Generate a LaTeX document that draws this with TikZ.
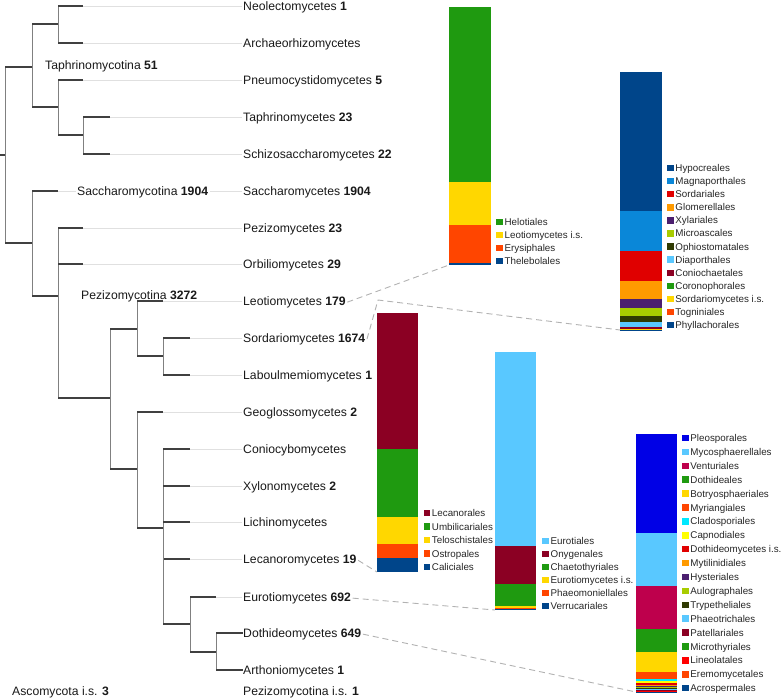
\documentclass[tikz,border=0pt]{standalone}
\usepackage{fontspec}
\setmainfont{Liberation Sans}
\usetikzlibrary{positioning}
\definecolor{cGreen}{HTML}{1F9A10}
\definecolor{cGold}{HTML}{FFD700}
\definecolor{cOrRed}{HTML}{FF4500}
\definecolor{cDkBlue}{HTML}{00458A}
\definecolor{cBlue}{HTML}{0A87D8}
\definecolor{cRed}{HTML}{E00000}
\definecolor{cOrange}{HTML}{FF9A00}
\definecolor{cPurple}{HTML}{4B1F6F}
\definecolor{cYlGrn}{HTML}{A8CC00}
\definecolor{cOlive}{HTML}{2F3A02}
\definecolor{cLtBlue}{HTML}{59C8FF}
\definecolor{cDkRed}{HTML}{8B0023}
\definecolor{cPleo}{HTML}{0000E6}
\definecolor{cCrimson}{HTML}{BE004C}
\definecolor{cCyan}{HTML}{00E8FF}
\definecolor{cYellow}{HTML}{FFFF00}
\definecolor{cBrRed}{HTML}{FF0000}
\begin{document}
\begin{tikzpicture}[x=1pt, y=-1pt,
  hbr/.style={draw=black!75, line width=1.5pt},
  vbr/.style={draw=black!50, line width=0.9pt},
  guide/.style={draw=black!12, line width=0.8pt},
  leaf/.style={anchor=base west, inner sep=1.5pt, text=black!90,
               font=\fontsize{12.2}{14}\selectfont},
  clade/.style={leaf},
  sw/.style={rectangle, inner sep=0pt, minimum size=6.5pt},
  lgd/.style={anchor=west, inner sep=0pt, text=black!85, text height=7.5pt,
              text depth=0.5pt, font=\fontsize{9.8}{11}\selectfont},
  link/.style={draw=black!30, line width=0.9pt, dash pattern=on 6pt off 4pt}
]
\useasboundingbox (0,0) rectangle (781,700);

% leaves
\foreach \n/\tx/\y/\txt in {
  neo/83/6/{Neolectomycetes \textbf{1}},
  arc/83/43/{Archaeorhizomycetes},
  pne/83/80/{Pneumocystidomycetes \textbf{5}},
  tph/110/117/{Taphrinomycetes \textbf{23}},
  sch/110/154/{Schizosaccharomycetes \textbf{22}},
  sac/58/191/{Saccharomycetes \textbf{1904}},
  pzm/83/228/{Pezizomycetes \textbf{23}},
  orb/83/264/{Orbiliomycetes \textbf{29}},
  leo/163/301/{Leotiomycetes \textbf{179}},
  sor/190/338/{Sordariomycetes \textbf{1674}},
  lab/190/375/{Laboulmemiomycetes \textbf{1}},
  geo/163/412/{Geoglossomycetes \textbf{2}},
  con/190/449/{Coniocybomycetes},
  xyl/190/486/{Xylonomycetes \textbf{2}},
  lic/190/522/{Lichinomycetes},
  lec/190/559/{Lecanoromycetes \textbf{19}},
  eur/216/597/{Eurotiomycetes \textbf{692}},
  dot/243/633/{Dothideomycetes \textbf{649}},
  art/243/670/{Arthoniomycetes \textbf{1}}}{
  \coordinate (t\n) at (\tx,\y);
  \node[leaf] (\n) at (241.5,\y+4.3) {\txt};
  \draw[guide] (t\n) -- (t\n -| \n.west);
}
\node[leaf]  (pis) at (241.5,695.3) {Pezizomycotina i.s. \textbf{1}};
\node[clade] (ais) at (10.5,695.3)  {Ascomycota i.s. \textbf{3}};

% inner nodes of the tree
\coordinate (stem) at (0,155);
\coordinate (root) at (5,155);
\coordinate (tap)  at (32,67);
\coordinate (ta1)  at (58,24);
\coordinate (ta2)  at (58,107);
\coordinate (ta3)  at (83,135);
\coordinate (sp)   at (32,243);
\coordinate (pez)  at (58,296);
\coordinate (pe1)  at (110,398);
\coordinate (pe2)  at (137,329);
\coordinate (pe3)  at (163,356);
\coordinate (pe4)  at (137,469);
\coordinate (pe5)  at (163,528);
\coordinate (pe6)  at (190,624);
\coordinate (pe7)  at (216,652);
\draw[hbr] (stem) -- (root);
\foreach \p/\q in {root/tap, root/sp, tap/ta1, tap/ta2, ta1/tneo, ta1/tarc,
    ta2/tpne, ta2/ta3, ta3/ttph, ta3/tsch, sp/tsac, sp/pez, pez/tpzm, pez/torb,
    pez/pe1, pe1/pe2, pe1/pe4, pe2/tleo, pe2/pe3, pe3/tsor, pe3/tlab,
    pe4/tgeo, pe4/pe5, pe5/tcon, pe5/txyl, pe5/tlic, pe5/tlec, pe5/pe6,
    pe6/teur, pe6/pe7, pe7/tdot, pe7/tart}{
  \draw[vbr] (\p) -- (\p |- \q);
  \draw[hbr] (\p |- \q) -- (\q);
}
\node[clade] (taphr) at (43.5,69.3) {Taphrinomycotina \textbf{51}};
\node[clade, fill=white] (sacch) at (75.5,195.3) {Saccharomycotina \textbf{1904}};
\node[clade] (peziz) at (79.5,299.5) {Pezizomycotina \textbf{3272}};

% Leotiomycetes bar
\foreach \col/\ya/\yb in {cGreen/7/182, cGold/182/225, cOrRed/225/263, cDkBlue/263/265}
  \fill[\col] (449,\ya) rectangle (491,\yb);
\foreach \col/\nm [count=\i] in {cGreen/Helotiales, cGold/Leotiomycetes i.s.,
    cOrRed/Erysiphales, cDkBlue/Thelebolales}{
  \node[sw, fill=\col] (leoS\i) at (499.5,{222+13*(\i-1)}) {};
  \node[lgd, right=1.5pt of leoS\i] (leoL\i) {\nm};
}

% Sordariomycetes bar
\foreach \col/\ya/\yb in {cDkBlue/72/211, cBlue/211/251, cRed/251/281,
    cOrange/281/299, cPurple/299/308, cYlGrn/308/316, cOlive/316/322,
    cLtBlue/322/327, cDkRed/327/328.8, cGreen/328.8/329.3, cGold/329.3/329.6,
    cOrRed/329.6/329.8, cDkBlue/329.8/330}
  \fill[\col] (620,\ya) rectangle (662,\yb);
\foreach \col/\nm [count=\i] in {cDkBlue/Hypocreales, cBlue/Magnaporthales,
    cRed/Sordariales, cOrange/Glomerellales, cPurple/Xylariales,
    cYlGrn/Microascales, cOlive/Ophiostomatales, cLtBlue/Diaporthales,
    cDkRed/Coniochaetales, cGreen/Coronophorales, cGold/Sordariomycetes i.s.,
    cOrRed/Togniniales, cDkBlue/Phyllachorales}{
  \node[sw, fill=\col] (sorS\i) at (670.3,{168+13.1*(\i-1)}) {};
  \node[lgd, right=1.5pt of sorS\i] (sorL\i) {\nm};
}

% Lecanoromycetes bar
\foreach \col/\ya/\yb in {cDkRed/313/449, cGreen/449/517, cGold/517/544,
    cOrRed/544/558, cDkBlue/558/572}
  \fill[\col] (377,\ya) rectangle (418,\yb);
\foreach \col/\nm [count=\i] in {cDkRed/Lecanorales, cGreen/Umbilicariales,
    cGold/Teloschistales, cOrRed/Ostropales, cDkBlue/Caliciales}{
  \node[sw, fill=\col] (lecS\i) at (426.8,{513+13.5*(\i-1)}) {};
  \node[lgd, right=1.5pt of lecS\i] (lecL\i) {\nm};
}

% Eurotiomycetes bar
\foreach \col/\ya/\yb in {cLtBlue/352/546, cDkRed/546/584, cGreen/584/606,
    cGold/606/607.5, cOrRed/607.5/609, cDkBlue/609/610}
  \fill[\col] (495,\ya) rectangle (536,\yb);
\foreach \col/\nm [count=\i] in {cLtBlue/Eurotiales, cDkRed/Onygenales,
    cGreen/Chaetothyriales, cGold/Eurotiomycetes i.s.,
    cOrRed/Phaeomoniellales, cDkBlue/Verrucariales}{
  \node[sw, fill=\col] (eurS\i) at (545.5,{541+13*(\i-1)}) {};
  \node[lgd, right=1.5pt of eurS\i] (eurL\i) {\nm};
}

% Dothideomycetes bar
\foreach \col/\ya/\yb in {cPleo/434/533, cLtBlue/533/586, cCrimson/586/629,
    cGreen/629/651.5, cGold/651.5/672, cOrRed/672/679, cCyan/679/681,
    cYellow/681/683, cRed/683/685, cOrange/685/686, cPurple/686/687,
    cYlGrn/687/688, cOlive/688/689, cLtBlue/689/689.7, cDkRed/689.7/690.5,
    cGreen/690.5/691.2, cBrRed/691.2/691.6, cOrRed/691.6/691.8, cDkBlue/691.8/692}
  \fill[\col] (636,\ya) rectangle (677,\yb);
\foreach \col/\nm [count=\i] in {cPleo/Pleosporales, cLtBlue/Mycosphaerellales,
    cCrimson/Venturiales, cGreen/Dothideales, cGold/Botryosphaeriales,
    cOrRed/Myriangiales, cCyan/Cladosporiales, cYellow/Capnodiales,
    cRed/Dothideomycetes i.s., cOrange/Mytilinidiales, cPurple/Hysteriales,
    cYlGrn/Aulographales, cOlive/Trypetheliales, cLtBlue/Phaeotrichales,
    cDkRed/Patellariales, cGreen/Microthyriales, cBrRed/Lineolatales,
    cOrRed/Eremomycetales, cDkBlue/Acrospermales}{
  \node[sw, fill=\col] (dotS\i) at (685.3,{438+13.9*(\i-1)}) {};
  \node[lgd, right=1.5pt of dotS\i] (dotL\i) {\nm};
}

% links from classes to bars
\coordinate (leoB) at (449,265);
\coordinate (sorK) at (378,300);
\coordinate (sorB) at (620,330);
\coordinate (lecB) at (377,572);
\coordinate (eurB) at (495,610);
\coordinate (dotB) at (636,692);
\draw[link] (leo.east) -- (leoB);
\draw[link] (sor.east) -- (sorK) -- (sorB);
\draw[link] (lec.east) -- (lecB);
\draw[link] (eur.east) -- (eurB);
\draw[link] (dot.east) -- (dotB);
\end{tikzpicture}
\end{document}
